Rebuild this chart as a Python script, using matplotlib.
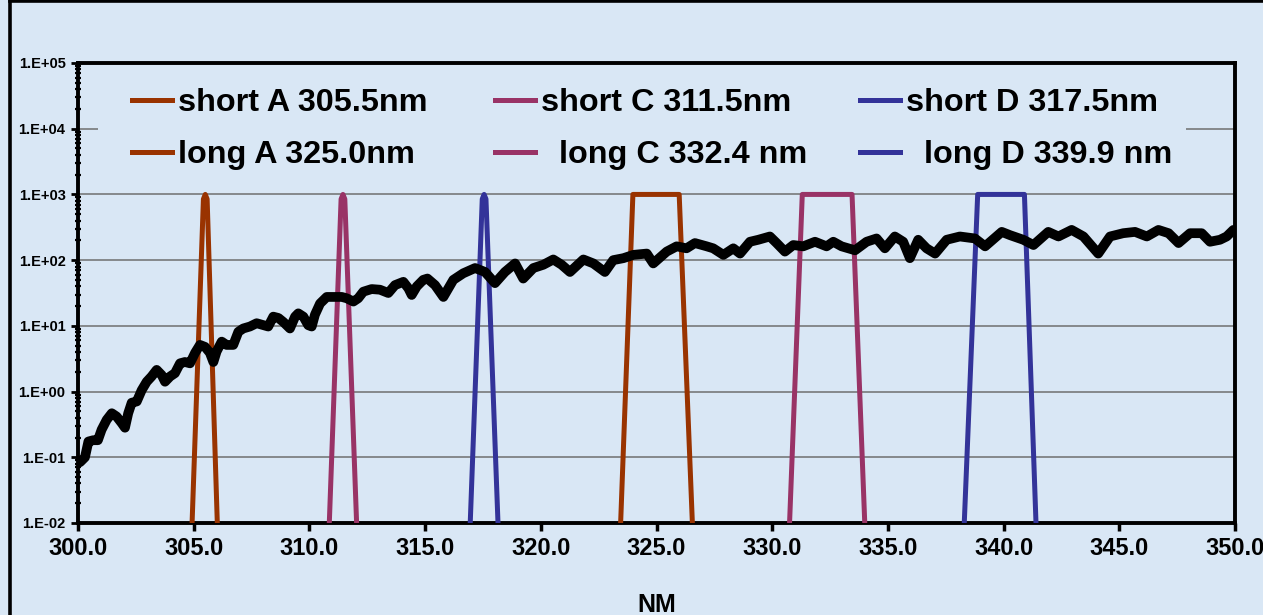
import numpy as np
import matplotlib
matplotlib.use("Agg")
import matplotlib.pyplot as plt
from matplotlib.ticker import FuncFormatter, FixedLocator, LogLocator, NullFormatter
from matplotlib.lines import Line2D
from matplotlib.patches import Rectangle

# ---------------- data ----------------
signal_nm = [300.0, 300.1, 300.3, 300.45, 300.66, 300.86, 301.02, 301.24, 301.46, 301.67,
             301.89, 302.03, 302.17, 302.32, 302.54, 302.75, 302.97, 303.18, 303.4, 303.62,
             303.76, 303.98, 304.19, 304.41, 304.62, 304.84, 305.06, 305.27, 305.49, 305.7,
             305.85, 305.99, 306.21, 306.42, 306.71, 306.93, 307.14, 307.43, 307.72, 308.01,
             308.22, 308.44, 308.66, 308.87, 309.16, 309.38, 309.52, 309.74, 309.95, 310.1,
             310.24, 310.46, 310.75, 311.03, 311.4, 311.61, 311.9, 312.11, 312.33, 312.69,
             313.05, 313.41, 313.7, 314.06, 314.28, 314.42, 314.64, 314.92, 315.1, 315.43,
             315.79, 316.22, 316.65, 317.16, 317.59, 318.02, 318.45, 318.89, 319.24, 319.68,
             320.11, 320.54, 320.9, 321.26, 321.84, 322.27, 322.77, 323.13, 323.57, 324.0,
             324.58, 324.86, 325.44, 325.87, 326.3, 326.66, 327.17, 327.45, 327.89, 328.32,
             328.61, 329.04, 329.4, 329.9, 330.19, 330.55, 330.91, 331.34, 331.85, 332.35,
             332.64, 333.0, 333.58, 334.08, 334.51, 334.87, 335.3, 335.66, 335.95, 336.31,
             336.67, 337.04, 337.54, 338.11, 338.76, 339.2, 339.92, 340.28, 340.85, 341.29,
             341.93, 342.37, 342.94, 343.45, 344.09, 344.6, 345.17, 345.68, 346.19, 346.69,
             347.13, 347.56, 348.06, 348.56, 348.92, 349.35, 349.64, 349.93]
signal_log10 = [-1.09, -1.07, -1.0, -0.76, -0.74, -0.74, -0.58, -0.43, -0.33, -0.38,
                -0.48, -0.55, -0.33, -0.17, -0.15, 0.02, 0.15, 0.23, 0.33, 0.25,
                0.15, 0.23, 0.28, 0.43, 0.45, 0.43, 0.59, 0.71, 0.68, 0.59,
                0.45, 0.61, 0.76, 0.71, 0.71, 0.91, 0.96, 0.99, 1.04, 1.01,
                0.99, 1.14, 1.12, 1.06, 0.96, 1.14, 1.19, 1.14, 1.01, 0.99,
                1.17, 1.34, 1.44, 1.44, 1.44, 1.42, 1.37, 1.42, 1.52, 1.56,
                1.55, 1.50, 1.62, 1.67, 1.57, 1.47, 1.60, 1.70, 1.72, 1.62,
                1.44, 1.70, 1.80, 1.88, 1.82, 1.65, 1.82, 1.95, 1.72, 1.88,
                1.93, 2.01, 1.93, 1.82, 2.01, 1.95, 1.82, 2.0, 2.03, 2.08,
                2.10, 1.95, 2.13, 2.21, 2.18, 2.26, 2.21, 2.18, 2.08, 2.18,
                2.10, 2.28, 2.31, 2.36, 2.26, 2.13, 2.23, 2.21, 2.28, 2.21,
                2.28, 2.21, 2.15, 2.28, 2.33, 2.18, 2.36, 2.28, 2.03, 2.31,
                2.18, 2.10, 2.31, 2.36, 2.33, 2.21, 2.43, 2.38, 2.31, 2.23,
                2.43, 2.36, 2.46, 2.36, 2.10, 2.36, 2.41, 2.43, 2.36, 2.46,
                2.41, 2.26, 2.41, 2.41, 2.28, 2.31, 2.36, 2.46]

short_A_nm = [304.93, 305.42, 305.5, 305.58, 306.02]
short_A_val = [0.01, 850, 1000, 850, 0.01]
short_C_nm = [310.86, 311.37, 311.45, 311.53, 312.04]
short_C_val = [0.01, 850, 1000, 850, 0.01]
short_D_nm = [316.95, 317.47, 317.55, 317.63, 318.15]
short_D_val = [0.01, 850, 1000, 850, 0.01]
long_A_nm = [323.45, 323.98, 325.98, 326.55]
long_A_val = [0.01, 1000, 1000, 0.01]
long_C_nm = [330.75, 331.3, 333.45, 334.0]
long_C_val = [0.01, 1000, 1000, 0.01]
long_D_nm = [338.3, 338.88, 340.9, 341.4]
long_D_val = [0.01, 1000, 1000, 0.01]

labels = ["short A 305.5nm", "long A 325.0nm",
          "short C 311.5nm", "  long C 332.4 nm",
          "short D 317.5nm", "  long D 339.9 nm"]
x_ticks = [300.0, 305.0, 310.0, 315.0, 320.0, 325.0, 330.0, 335.0, 340.0, 345.0, 350.0]
y_ticks = [1e-2, 1e-1, 1e0, 1e1, 1e2, 1e3, 1e4, 1e5]
x_label = "NM"

# ---------------- style ----------------
BG = "#d9e7f5"
BROWN = "#993300"
PINK = "#993366"
BLUE = "#333399"
FONT = "Liberation Sans"

W, H = 1263, 615
fig = plt.figure(figsize=(W / 100, H / 100), dpi=100, facecolor=BG)
L, R, T, B = 78, 1235, 63, 523
ax = fig.add_axes([L / W, (H - B) / H, (R - L) / W, (B - T) / H])
ax.set_facecolor("none")
ax.set_yscale("log")
ax.set_xlim(300, 350)
ax.set_ylim(1e-2, 1e5)
ax.set_axisbelow(True)

# gridlines
ax.yaxis.set_major_locator(FixedLocator(y_ticks))
ax.grid(True, axis="y", which="major", color="#6f6f6f", lw=1.1, zorder=0.5)
ax.grid(False, axis="x")

# patch hiding the gridline behind the legend
ax.add_patch(Rectangle(((98 - L) / (R - L), (B - 146) / (B - T)),
                       (1186 - 98) / (R - L), 36 / (B - T),
                       transform=ax.transAxes, facecolor=BG, edgecolor="none", zorder=1))

lw_f = 3.6
lines = []
lines.append(ax.plot(short_A_nm, short_A_val, color=BROWN, lw=lw_f, solid_joinstyle="round", zorder=3)[0])
lines.append(ax.plot(long_A_nm, long_A_val, color=BROWN, lw=lw_f, solid_joinstyle="round", zorder=3)[0])
lines.append(ax.plot(short_C_nm, short_C_val, color=PINK, lw=lw_f, solid_joinstyle="round", zorder=3)[0])
lines.append(ax.plot(long_C_nm, long_C_val, color=PINK, lw=lw_f, solid_joinstyle="round", zorder=3)[0])
lines.append(ax.plot(short_D_nm, short_D_val, color=BLUE, lw=lw_f, solid_joinstyle="round", zorder=3)[0])
lines.append(ax.plot(long_D_nm, long_D_val, color=BLUE, lw=lw_f, solid_joinstyle="round", zorder=3)[0])

sig = 10 ** np.array(signal_log10)
ax.plot(signal_nm, sig, color="black", lw=7, solid_joinstyle="round",
        solid_capstyle="round", zorder=4)

# axes styling
for s in ax.spines.values():
    s.set_linewidth(2.8)
    s.set_color("black")
ax.set_xticks(x_ticks)
ax.xaxis.set_major_formatter(FuncFormatter(lambda v, p: f"{v:.1f}"))
ax.yaxis.set_major_formatter(FuncFormatter(lambda v, p: f"1.E{int(round(np.log10(v))):+03d}"))
ax.yaxis.set_minor_locator(LogLocator(base=10, subs=np.arange(2, 10), numticks=20))
ax.yaxis.set_minor_formatter(NullFormatter())
ax.tick_params(axis="x", which="major", direction="out", length=6, width=2.5,
               pad=4, labelsize=17)
ax.tick_params(axis="y", which="major", direction="out", length=5, width=2.0,
               pad=4, labelsize=10.5)
ax.tick_params(axis="y", which="minor", direction="inout", length=5, width=1.6)
for lab in ax.get_xticklabels() + ax.get_yticklabels():
    lab.set_fontfamily(FONT)
    lab.set_fontweight("bold")

ax.set_xlabel(x_label, fontsize=18, fontweight="bold", fontfamily=FONT, labelpad=24)

# legends: three columns
col_x = [132, 495, 860]
ymid = (B - 129) / (B - T)
legs = []
for i, cx in enumerate(col_x):
    lg = ax.legend(lines[2 * i:2 * i + 2], labels[2 * i:2 * i + 2],
                   loc="center left", bbox_to_anchor=((cx - L) / (R - L), ymid),
                   frameon=False, borderpad=0, borderaxespad=0,
                   handlelength=1.25, handletextpad=0.16, labelspacing=0.68,
                   prop={"family": FONT, "weight": "bold", "size": 23.3})
    legs.append(lg)
for lg in legs[:-1]:
    ax.add_artist(lg)

# outer frame lines
fig.add_artist(Line2D([10.3 / W, 1.0], [1 - 1.3 / H, 1 - 1.3 / H], transform=fig.transFigure,
                      color="black", lw=2.6))
fig.add_artist(Line2D([10.3 / W, 10.3 / W], [0, 1 - 1.3 / H], transform=fig.transFigure,
                      color="black", lw=2.6))

fig.savefig("out.png", dpi=100, facecolor=BG)
